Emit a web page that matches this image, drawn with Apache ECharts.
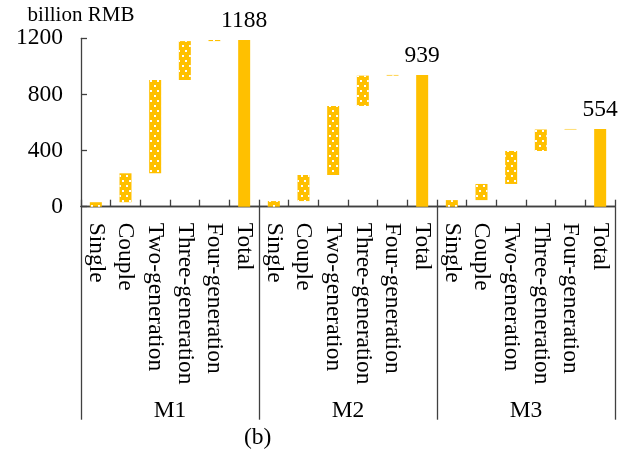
<!DOCTYPE html>
<html>
<head>
<meta charset="utf-8">
<script src="https://cdn.jsdelivr.net/npm/echarts@6/dist/echarts.min.js"></script>
<style>
  html, body { margin: 0; padding: 0; background: #fff; }
  #chart { width: 623px; height: 459px; }
</style>
</head>
<body>
<div id="chart"></div>
<script>
// household types within each scenario
const types = ['Single', 'Couple', 'Two-generation', 'Three-generation', 'Four-generation', 'Total']
const groups = ['M1', 'M2', 'M3']

// increments per household type (billion RMB)
const m1 = [32, 206, 665, 277, 8]
const m2 = [40, 186, 492, 216, 5]
const m3 = [47, 115, 235, 153, 4]
const totals = [1188, 939, 554]

const yTicks = [0, 400, 800, 1200]

const font = 'Liberation Serif'
const yellow = '#FFC000'
const axisColor = '#404040'

const categories = []
const baseData = []
const partData = []
const totalData = []

;[m1, m2, m3].forEach((parts, g) => {
  let acc = 0
  parts.forEach((v, i) => {
    categories.push(types[i])
    baseData.push(acc)
    partData.push(v)
    totalData.push('-')
    acc += v
  })
  categories.push(types[5])
  baseData.push(0)
  partData.push('-')
  totalData.push(totals[g])
})

const chart = echarts.init(document.getElementById('chart'))

const option = {
  animation: false,
  grid: {
    left: 81,
    right: 8,
    top: 38.3,
    bottom: 252.3,
    outerBoundsMode: 'none'
  },
  xAxis: [
    {
      type: 'category',
      data: categories,
      position: 'bottom',
      axisLine: {lineStyle: {color: axisColor, width: 1.3}},
      axisTick: {show: true, inside: true, length: 7, lineStyle: {color: axisColor, width: 1.3}},
      axisLabel: {
        interval: 0,
        rotate: -90,
        margin: 16,
        color: '#000',
        fontFamily: font,
        fontSize: 23.5
      }
    },
    {
      type: 'category',
      data: groups,
      position: 'bottom',
      offset: 0,
      axisLine: {show: true, lineStyle: {color: axisColor, width: 1.3}},
      axisTick: {show: true, interval: 0, inside: false, length: 213, lineStyle: {color: axisColor, width: 1.3}},
      axisLabel: {
        interval: 0,
        margin: 192,
        color: '#000',
        fontFamily: font,
        fontSize: 23.5
      }
    }
  ],
  yAxis: {
    type: 'value',
    min: yTicks[0],
    max: yTicks[yTicks.length - 1],
    interval: yTicks[1] - yTicks[0],
    name: 'billion RMB',
    nameLocation: 'end',
    nameGap: 5,
    nameTextStyle: {color: '#000', fontFamily: font, fontSize: 21},
    axisLine: {show: true, lineStyle: {color: axisColor, width: 1.3}},
    axisTick: {show: true, inside: true, length: 6, lineStyle: {color: axisColor, width: 1.3}},
    axisLabel: {
      color: '#000',
      fontFamily: font,
      fontSize: 23.5,
      margin: 18,
      formatter: (v) => String(v)
    },
    splitLine: {show: false}
  },
  graphic: [
    {
      type: 'text',
      left: 244,
      top: 426,
      style: {text: '(b)', fill: '#000', font: '23.5px "Liberation Serif"'}
    }
  ],
  series: [
    {
      name: 'base',
      type: 'bar',
      stack: 'w',
      barWidth: 12,
      itemStyle: {color: 'transparent'},
      silent: true,
      data: baseData
    },
    {
      name: 'part',
      type: 'bar',
      stack: 'w',
      barWidth: 12,
      itemStyle: {
        color: yellow,
        decal: {
          symbol: 'rect',
          symbolSize: 1,
          color: '#ffffff',
          dashArrayX: [[1.6, 4.4], [0, 3, 1.6, 1.4]],
          dashArrayY: [1.6, 2.2]
        }
      },
      data: partData
    },
    {
      name: 'total',
      type: 'bar',
      stack: 'w',
      barWidth: 12,
      itemStyle: {color: yellow},
      label: {
        show: true,
        position: 'top',
        distance: 7,
        color: '#000',
        fontFamily: font,
        fontSize: 23.5
      },
      data: totalData
    }
  ]
}

chart.setOption(option)
</script>
</body>
</html>
